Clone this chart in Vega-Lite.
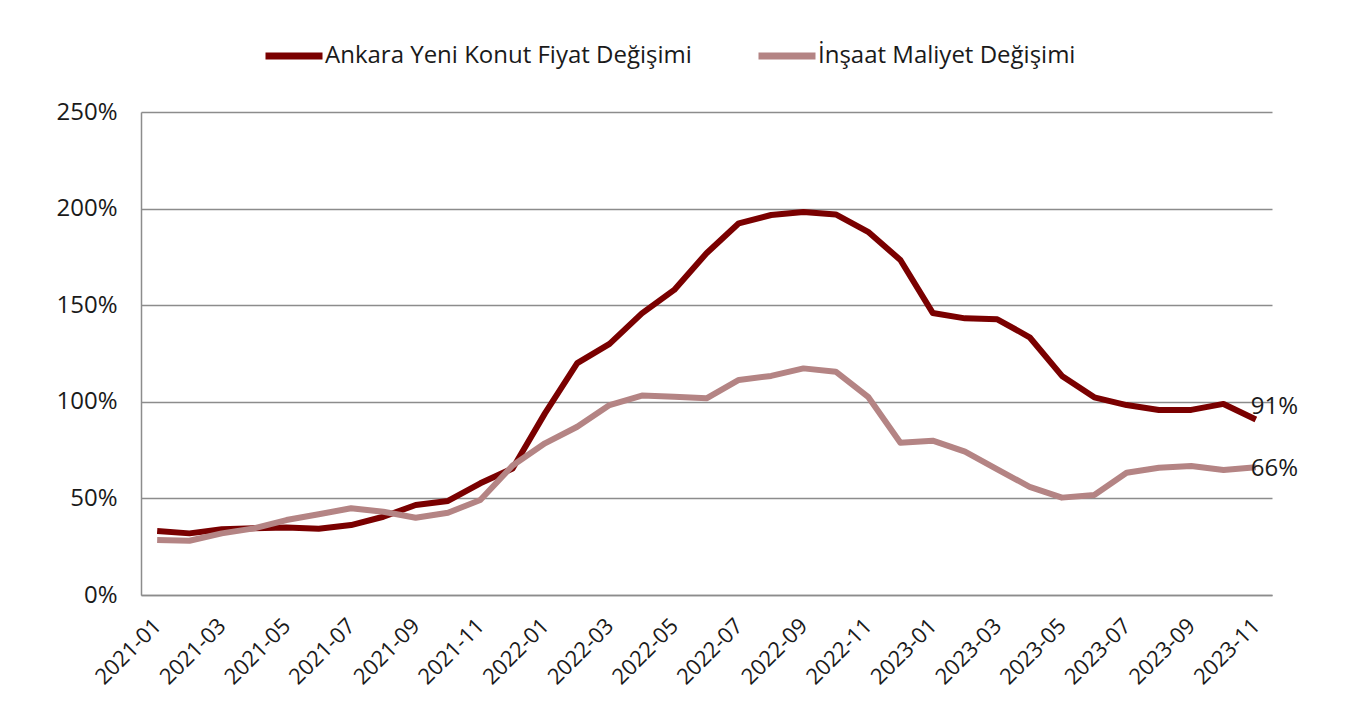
{
  "$schema": "https://vega.github.io/schema/vega-lite/v6.json",
  "width": 1131,
  "height": 483,
  "autosize": "none",
  "padding": {"left": 141, "top": 112, "right": 88, "bottom": 129},
  "background": "white",
  "config": {
    "font": "Open Sans",
    "view": {"stroke": null},
    "axis": {"labelFont": "Open Sans", "labelColor": "#1a1a1a"}
  },
  "data": {
    "values": [
      {"month": "2021-01", "series": "Ankara Yeni Konut Fiyat Değişimi", "value": 33.1},
      {"month": "2021-02", "series": "Ankara Yeni Konut Fiyat Değişimi", "value": 31.9},
      {"month": "2021-03", "series": "Ankara Yeni Konut Fiyat Değişimi", "value": 34.0},
      {"month": "2021-04", "series": "Ankara Yeni Konut Fiyat Değişimi", "value": 34.5},
      {"month": "2021-05", "series": "Ankara Yeni Konut Fiyat Değişimi", "value": 35.0},
      {"month": "2021-06", "series": "Ankara Yeni Konut Fiyat Değişimi", "value": 34.3},
      {"month": "2021-07", "series": "Ankara Yeni Konut Fiyat Değişimi", "value": 36.2},
      {"month": "2021-08", "series": "Ankara Yeni Konut Fiyat Değişimi", "value": 40.5},
      {"month": "2021-09", "series": "Ankara Yeni Konut Fiyat Değişimi", "value": 46.6},
      {"month": "2021-10", "series": "Ankara Yeni Konut Fiyat Değişimi", "value": 48.7},
      {"month": "2021-11", "series": "Ankara Yeni Konut Fiyat Değişimi", "value": 57.8},
      {"month": "2021-12", "series": "Ankara Yeni Konut Fiyat Değişimi", "value": 65.5},
      {"month": "2022-01", "series": "Ankara Yeni Konut Fiyat Değişimi", "value": 94.0},
      {"month": "2022-02", "series": "Ankara Yeni Konut Fiyat Değişimi", "value": 120.0},
      {"month": "2022-03", "series": "Ankara Yeni Konut Fiyat Değişimi", "value": 130.0},
      {"month": "2022-04", "series": "Ankara Yeni Konut Fiyat Değişimi", "value": 145.8},
      {"month": "2022-05", "series": "Ankara Yeni Konut Fiyat Değişimi", "value": 157.9},
      {"month": "2022-06", "series": "Ankara Yeni Konut Fiyat Değişimi", "value": 176.9},
      {"month": "2022-07", "series": "Ankara Yeni Konut Fiyat Değişimi", "value": 192.4},
      {"month": "2022-08", "series": "Ankara Yeni Konut Fiyat Değişimi", "value": 196.7},
      {"month": "2022-09", "series": "Ankara Yeni Konut Fiyat Değişimi", "value": 198.2},
      {"month": "2022-10", "series": "Ankara Yeni Konut Fiyat Değişimi", "value": 197.0},
      {"month": "2022-11", "series": "Ankara Yeni Konut Fiyat Değişimi", "value": 188.0},
      {"month": "2022-12", "series": "Ankara Yeni Konut Fiyat Değişimi", "value": 173.4},
      {"month": "2023-01", "series": "Ankara Yeni Konut Fiyat Değişimi", "value": 146.0},
      {"month": "2023-02", "series": "Ankara Yeni Konut Fiyat Değişimi", "value": 143.2},
      {"month": "2023-03", "series": "Ankara Yeni Konut Fiyat Değişimi", "value": 142.7},
      {"month": "2023-04", "series": "Ankara Yeni Konut Fiyat Değişimi", "value": 133.4},
      {"month": "2023-05", "series": "Ankara Yeni Konut Fiyat Değişimi", "value": 113.4},
      {"month": "2023-06", "series": "Ankara Yeni Konut Fiyat Değişimi", "value": 102.3},
      {"month": "2023-07", "series": "Ankara Yeni Konut Fiyat Değişimi", "value": 98.3},
      {"month": "2023-08", "series": "Ankara Yeni Konut Fiyat Değişimi", "value": 95.8},
      {"month": "2023-09", "series": "Ankara Yeni Konut Fiyat Değişimi", "value": 95.8},
      {"month": "2023-10", "series": "Ankara Yeni Konut Fiyat Değişimi", "value": 98.9},
      {"month": "2023-11", "series": "Ankara Yeni Konut Fiyat Değişimi", "value": 90.8},
      {"month": "2021-01", "series": "İnşaat Maliyet Değişimi", "value": 28.5},
      {"month": "2021-02", "series": "İnşaat Maliyet Değişimi", "value": 28.1},
      {"month": "2021-03", "series": "İnşaat Maliyet Değişimi", "value": 31.9},
      {"month": "2021-04", "series": "İnşaat Maliyet Değişimi", "value": 34.5},
      {"month": "2021-05", "series": "İnşaat Maliyet Değişimi", "value": 38.8},
      {"month": "2021-06", "series": "İnşaat Maliyet Değişimi", "value": 41.8},
      {"month": "2021-07", "series": "İnşaat Maliyet Değişimi", "value": 44.9},
      {"month": "2021-08", "series": "İnşaat Maliyet Değişimi", "value": 43.1},
      {"month": "2021-09", "series": "İnşaat Maliyet Değişimi", "value": 40.0},
      {"month": "2021-10", "series": "İnşaat Maliyet Değişimi", "value": 42.6},
      {"month": "2021-11", "series": "İnşaat Maliyet Değişimi", "value": 49.2},
      {"month": "2021-12", "series": "İnşaat Maliyet Değişimi", "value": 67.0},
      {"month": "2022-01", "series": "İnşaat Maliyet Değişimi", "value": 78.5},
      {"month": "2022-02", "series": "İnşaat Maliyet Değişimi", "value": 87.1},
      {"month": "2022-03", "series": "İnşaat Maliyet Değişimi", "value": 98.3},
      {"month": "2022-04", "series": "İnşaat Maliyet Değişimi", "value": 103.2},
      {"month": "2022-05", "series": "İnşaat Maliyet Değişimi", "value": 102.6},
      {"month": "2022-06", "series": "İnşaat Maliyet Değişimi", "value": 101.8},
      {"month": "2022-07", "series": "İnşaat Maliyet Değişimi", "value": 111.3},
      {"month": "2022-08", "series": "İnşaat Maliyet Değişimi", "value": 113.4},
      {"month": "2022-09", "series": "İnşaat Maliyet Değişimi", "value": 117.3},
      {"month": "2022-10", "series": "İnşaat Maliyet Değişimi", "value": 115.6},
      {"month": "2022-11", "series": "İnşaat Maliyet Değişimi", "value": 102.6},
      {"month": "2022-12", "series": "İnşaat Maliyet Değişimi", "value": 78.8},
      {"month": "2023-01", "series": "İnşaat Maliyet Değişimi", "value": 79.9},
      {"month": "2023-02", "series": "İnşaat Maliyet Değişimi", "value": 74.2},
      {"month": "2023-03", "series": "İnşaat Maliyet Değişimi", "value": 65.0},
      {"month": "2023-04", "series": "İnşaat Maliyet Değişimi", "value": 56.0},
      {"month": "2023-05", "series": "İnşaat Maliyet Değişimi", "value": 50.4},
      {"month": "2023-06", "series": "İnşaat Maliyet Değişimi", "value": 51.8},
      {"month": "2023-07", "series": "İnşaat Maliyet Değişimi", "value": 63.3},
      {"month": "2023-08", "series": "İnşaat Maliyet Değişimi", "value": 65.9},
      {"month": "2023-09", "series": "İnşaat Maliyet Değişimi", "value": 66.8},
      {"month": "2023-10", "series": "İnşaat Maliyet Değişimi", "value": 64.7},
      {"month": "2023-11", "series": "İnşaat Maliyet Değişimi", "value": 66.1}
    ]
  },
  "encoding": {
    "x": {
      "field": "month",
      "type": "ordinal",
      "sort": null,
      "scale": {"type": "point", "padding": 0.5},
      "axis": {
        "title": null,
        "values": ["2021-01","2021-03","2021-05","2021-07","2021-09","2021-11","2022-01","2022-03","2022-05","2022-07","2022-09","2022-11","2023-01","2023-03","2023-05","2023-07","2023-09","2023-11"],
        "labelAngle": -45,
        "labelAlign": "right",
        "labelBaseline": "middle",
        "labelFontSize": 22,
        "labelPadding": 27,
        "ticks": false,
        "domainColor": "#8c8c8c",
        "domainWidth": 1.5,
        "grid": false
      }
    },
    "y": {
      "field": "value",
      "type": "quantitative",
      "scale": {"domain": [0, 250]},
      "axis": {
        "title": null,
        "values": [0, 50, 100, 150, 200, 250],
        "labelExpr": "datum.value + '%'",
        "labelFontSize": 24,
        "labelPadding": 24,
        "ticks": false,
        "domainColor": "#8c8c8c",
        "domainWidth": 1.5,
        "gridColor": "#8c8c8c",
        "gridWidth": 1.5
      }
    }
  },
  "layer": [
    {
      "mark": {"type": "line", "strokeWidth": 6, "strokeCap": "butt", "strokeJoin": "round"},
      "encoding": {
        "color": {
          "field": "series",
          "type": "nominal",
          "scale": {
            "domain": ["Ankara Yeni Konut Fiyat Değişimi", "İnşaat Maliyet Değişimi"],
            "range": ["#7a0000", "#b48484"]
          },
          "legend": {
            "title": null,
            "orient": "none",
            "direction": "horizontal",
            "legendX": 121,
            "legendY": -88,
            "symbolType": "stroke",
            "symbolSize": 3249,
            "symbolStrokeWidth": 7,
            "labelFontSize": 24,
            "labelFont": "Open Sans",
            "labelColor": "#1a1a1a",
            "labelOffset": -1,
            "columnPadding": 52,
            "labelLimit": 500
          }
        }
      }
    },
    {
      "transform": [
        {"filter": "datum.month == '2023-11' && datum.series == 'Ankara Yeni Konut Fiyat Değişimi'"},
        {"calculate": "format(datum.value, '.0f') + '%'", "as": "label"}
      ],
      "mark": {"type": "text", "align": "left", "baseline": "middle", "dx": -5, "dy": -13, "fontSize": 24, "font": "Open Sans", "color": "#1a1a1a"},
      "encoding": {"text": {"field": "label", "type": "nominal"}}
    },
    {
      "transform": [
        {"filter": "datum.month == '2023-11' && datum.series == 'İnşaat Maliyet Değişimi'"},
        {"calculate": "format(datum.value, '.0f') + '%'", "as": "label"}
      ],
      "mark": {"type": "text", "align": "left", "baseline": "middle", "dx": -5, "dy": 2, "fontSize": 24, "font": "Open Sans", "color": "#1a1a1a"},
      "encoding": {"text": {"field": "label", "type": "nominal"}}
    }
  ]
}
